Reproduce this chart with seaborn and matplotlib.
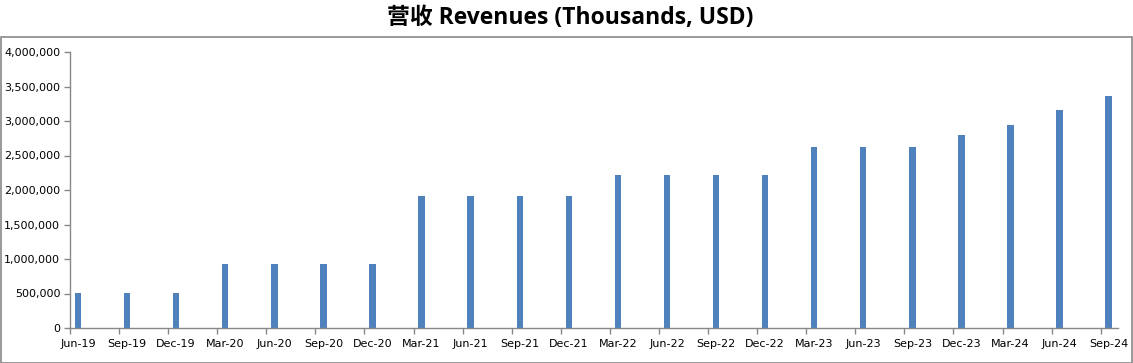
import numpy as np
import pandas as pd
import matplotlib
matplotlib.use("Agg")
import matplotlib.pyplot as plt
from matplotlib.patches import Rectangle
from matplotlib.ticker import FuncFormatter, FixedLocator
import seaborn as sns

# ── data ──────────────────────────────────────────────
quarters = ["Jun-19", "Sep-19", "Dec-19", "Mar-20", "Jun-20", "Sep-20", "Dec-20",
            "Mar-21", "Jun-21", "Sep-21", "Dec-21", "Mar-22", "Jun-22", "Sep-22",
            "Dec-22", "Mar-23", "Jun-23", "Sep-23", "Dec-23", "Mar-24", "Jun-24",
            "Sep-24"]
revenues = [510000, 510000, 510000, 925000, 925000, 925000, 925000,
            1915000, 1915000, 1915000, 1915000, 2215000, 2215000, 2215000,
            2215000, 2620000, 2620000, 2620000, 2795000, 2940000, 3160000,
            3360000]
y_ticks = [0, 500000, 1000000, 1500000, 2000000, 2500000, 3000000, 3500000, 4000000]

df = pd.DataFrame({"quarter": quarters, "revenue": revenues})

sns.set_style("white")
plt.rcParams["font.family"] = ["DejaVu Sans", "Noto Sans CJK SC"]
plt.rcParams["text.color"] = "black"
plt.rcParams["xtick.color"] = "black"
plt.rcParams["ytick.color"] = "black"

W, H = 1133, 363
fig = plt.figure(figsize=(W / 100, H / 100), dpi=100)
ax = fig.add_axes([70 / W, 1 - 328 / H, (1118 - 70) / W, (328 - 52) / H])

sns.barplot(data=df, x="quarter", y="revenue", color="#4F81BD",
            width=0.13, saturation=1, linewidth=0, edgecolor="none", ax=ax)

# axes styling
grey = "#888888"
for s in ["top", "right"]:
    ax.spines[s].set_visible(False)
for s in ["left", "bottom"]:
    ax.spines[s].set_color(grey)
    ax.spines[s].set_linewidth(1.0)

ax.set_xlim(-0.163, 21.19)
ax.set_ylim(0, 4000000)
ax.set_yticks(y_ticks)
ax.yaxis.set_major_formatter(FuncFormatter(lambda v, p: f"{int(v):,}"))
ax.tick_params(axis="y", direction="out", length=4, color=grey, width=1,
               labelsize=8, labelcolor="black", pad=3, left=True)
ax.tick_params(axis="x", which="major", length=0, labelsize=8,
               labelcolor="black", pad=8)
ax.xaxis.set_minor_locator(FixedLocator(np.arange(len(quarters)) - 0.163))
ax.tick_params(axis="x", which="minor", direction="out", length=4,
               color=grey, width=1, bottom=True)
ax.set_xlabel("")
ax.set_ylabel("")

# outer chart border
fig.patches.append(Rectangle((0.5 / W, 0.5 / H), (W - 1.5) / W, (H - 37.5) / H,
                             transform=fig.transFigure, fill=False,
                             edgecolor=grey, linewidth=1.2))

fig.text(570 / W, 1 - 18 / H, "营收 Revenues (Thousands, USD)",
         ha="center", va="center", fontsize=16.5, fontweight="bold",
         color="black", family=["Open Sans", "Noto Sans CJK SC"])

fig.savefig("out.png", dpi=100)
